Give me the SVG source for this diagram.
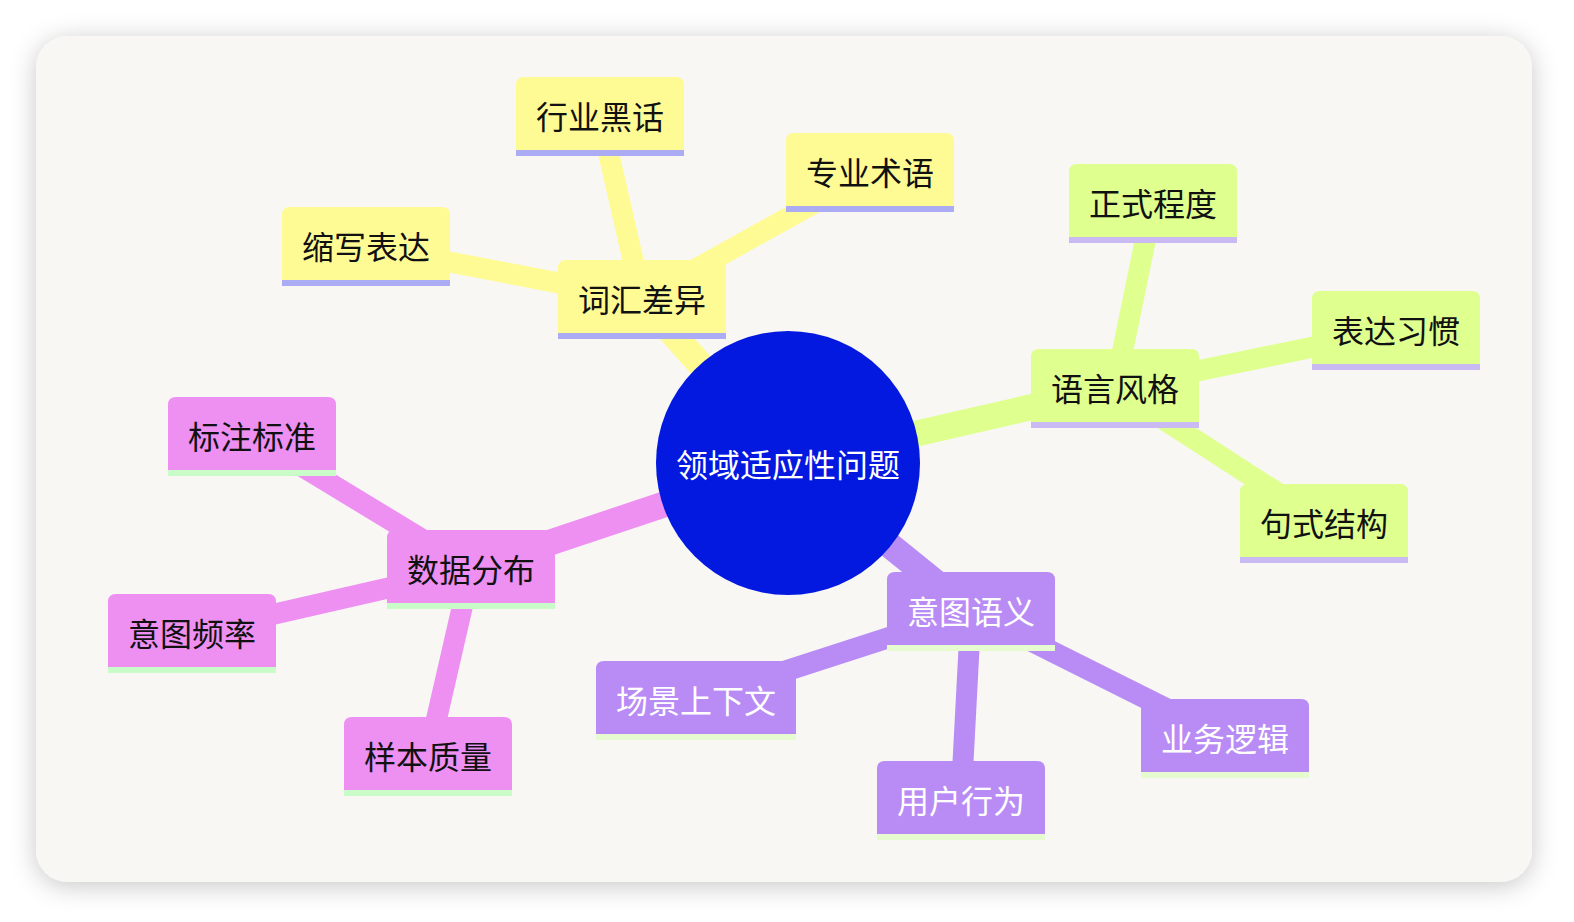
<svg xmlns="http://www.w3.org/2000/svg" width="1574" height="922" viewBox="0 0 1574 922">
<defs>
<filter id="shadow" x="-10%" y="-10%" width="120%" height="120%">
<feDropShadow dx="0" dy="4" stdDeviation="13" flood-color="#000" flood-opacity="0.22"/>
</filter>
<style>
text{font-family:"Noto Sans CJK SC","Noto Sans",sans-serif;font-size:32px;text-anchor:middle;dominant-baseline:central}
.dark{fill:#111}
.light{fill:#fff}
.e0{stroke-width:26;fill:none;stroke-linecap:butt}
.e1{stroke-width:21;fill:none;stroke-linecap:butt}
.sy{stroke:#FFFB94}.fy{fill:#FFFB94}.by{fill:#ACACF4}
.sg{stroke:#DFFF8F}.fg{fill:#DFFF8F}.bg{fill:#C9BAF3}
.sp{stroke:#B98CF5}.fp{fill:#B98CF5}.bp{fill:#E6FBD0}
.sk{stroke:#EE8FF2}.fk{fill:#EE8FF2}.bk{fill:#C9FCC9}
</style>
</defs>
<rect x="0" y="0" width="1574" height="922" fill="#ffffff"/>
<rect x="36" y="36" width="1496" height="846" rx="32" fill="#F8F7F4" filter="url(#shadow)"/>

<g id="connectors">
<line class="e0 sy" x1="788" y1="463" x2="642" y2="299"/>
<line class="e0 sg" x1="788" y1="463" x2="1115" y2="388"/>
<line class="e0 sp" x1="788" y1="463" x2="971" y2="611"/>
<line class="e0 sk" x1="788" y1="463" x2="471" y2="569"/>
<line class="e1 sy" x1="642" y1="299" x2="600" y2="116"/>
<line class="e1 sy" x1="642" y1="299" x2="870" y2="172"/>
<line class="e1 sy" x1="642" y1="299" x2="366" y2="246"/>
<line class="e1 sg" x1="1115" y1="388" x2="1153" y2="203"/>
<line class="e1 sg" x1="1115" y1="388" x2="1396" y2="330"/>
<line class="e1 sg" x1="1115" y1="388" x2="1324" y2="523"/>
<line class="e1 sp" x1="971" y1="611" x2="696" y2="700"/>
<line class="e1 sp" x1="971" y1="611" x2="961" y2="800"/>
<line class="e1 sp" x1="971" y1="611" x2="1225" y2="738"/>
<line class="e1 sk" x1="471" y1="569" x2="252" y2="436"/>
<line class="e1 sk" x1="471" y1="569" x2="192" y2="633"/>
<line class="e1 sk" x1="471" y1="569" x2="428" y2="756"/>
</g>

<g id="n-cihui">
<path class="fy" d="M558,333 V268 Q558,260 566,260 H718 Q726,260 726,268 V333 Z"/>
<rect class="by" x="558" y="333" width="168" height="6"/>
<text class="dark" x="642" y="298">词汇差异</text>
</g>
<g id="n-hangye">
<path class="fy" d="M516,150 V85 Q516,77 524,77 H676 Q684,77 684,85 V150 Z"/>
<rect class="by" x="516" y="150" width="168" height="6"/>
<text class="dark" x="600" y="115">行业黑话</text>
</g>
<g id="n-zhuanye">
<path class="fy" d="M786,206 V141 Q786,133 794,133 H946 Q954,133 954,141 V206 Z"/>
<rect class="by" x="786" y="206" width="168" height="6"/>
<text class="dark" x="870" y="171">专业术语</text>
</g>
<g id="n-suoxie">
<path class="fy" d="M282,280 V215 Q282,207 290,207 H442 Q450,207 450,215 V280 Z"/>
<rect class="by" x="282" y="280" width="168" height="6"/>
<text class="dark" x="366" y="245">缩写表达</text>
</g>

<g id="n-yuyan">
<path class="fg" d="M1031,422 V357 Q1031,349 1039,349 H1191 Q1199,349 1199,357 V422 Z"/>
<rect class="bg" x="1031" y="422" width="168" height="6"/>
<text class="dark" x="1115" y="387">语言风格</text>
</g>
<g id="n-zhengshi">
<path class="fg" d="M1069,237 V172 Q1069,164 1077,164 H1229 Q1237,164 1237,172 V237 Z"/>
<rect class="bg" x="1069" y="237" width="168" height="6"/>
<text class="dark" x="1153" y="202">正式程度</text>
</g>
<g id="n-biaoda">
<path class="fg" d="M1312,364 V299 Q1312,291 1320,291 H1472 Q1480,291 1480,299 V364 Z"/>
<rect class="bg" x="1312" y="364" width="168" height="6"/>
<text class="dark" x="1396" y="329">表达习惯</text>
</g>
<g id="n-jushi">
<path class="fg" d="M1240,557 V492 Q1240,484 1248,484 H1400 Q1408,484 1408,492 V557 Z"/>
<rect class="bg" x="1240" y="557" width="168" height="6"/>
<text class="dark" x="1324" y="522">句式结构</text>
</g>

<g id="n-yitu">
<path class="fp" d="M887,645 V580 Q887,572 895,572 H1047 Q1055,572 1055,580 V645 Z"/>
<rect class="bp" x="887" y="645" width="168" height="6"/>
<text class="light" x="971" y="610">意图语义</text>
</g>
<g id="n-changjing">
<path class="fp" d="M596,734 V669 Q596,661 604,661 H788 Q796,661 796,669 V734 Z"/>
<rect class="bp" x="596" y="734" width="200" height="6"/>
<text class="light" x="696" y="699">场景上下文</text>
</g>
<g id="n-yonghu">
<path class="fp" d="M877,834 V769 Q877,761 885,761 H1037 Q1045,761 1045,769 V834 Z"/>
<rect class="bp" x="877" y="834" width="168" height="6"/>
<text class="light" x="961" y="799">用户行为</text>
</g>
<g id="n-yewu">
<path class="fp" d="M1141,772 V707 Q1141,699 1149,699 H1301 Q1309,699 1309,707 V772 Z"/>
<rect class="bp" x="1141" y="772" width="168" height="6"/>
<text class="light" x="1225" y="737">业务逻辑</text>
</g>

<g id="n-shuju">
<path class="fk" d="M387,603 V538 Q387,530 395,530 H547 Q555,530 555,538 V603 Z"/>
<rect class="bk" x="387" y="603" width="168" height="6"/>
<text class="dark" x="471" y="568">数据分布</text>
</g>
<g id="n-biaozhu">
<path class="fk" d="M168,470 V405 Q168,397 176,397 H328 Q336,397 336,405 V470 Z"/>
<rect class="bk" x="168" y="470" width="168" height="6"/>
<text class="dark" x="252" y="435">标注标准</text>
</g>
<g id="n-pinlv">
<path class="fk" d="M108,667 V602 Q108,594 116,594 H268 Q276,594 276,602 V667 Z"/>
<rect class="bk" x="108" y="667" width="168" height="6"/>
<text class="dark" x="192" y="632">意图频率</text>
</g>
<g id="n-yangben">
<path class="fk" d="M344,790 V725 Q344,717 352,717 H504 Q512,717 512,725 V790 Z"/>
<rect class="bk" x="344" y="790" width="168" height="6"/>
<text class="dark" x="428" y="755">样本质量</text>
</g>

<g id="n-root">
<circle cx="788" cy="463" r="132" fill="#0319E0"/>
<text class="light" x="788" y="463">领域适应性问题</text>
</g>
</svg>
